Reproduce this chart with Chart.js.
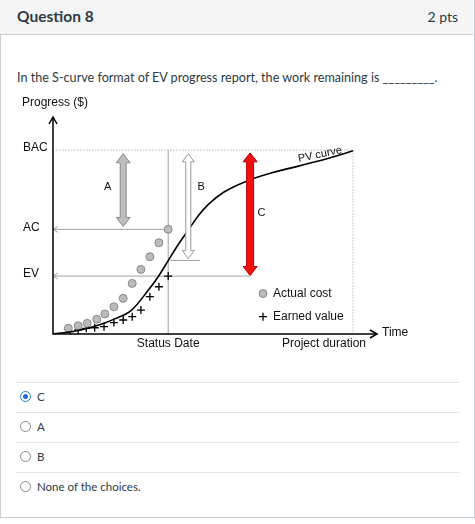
<!DOCTYPE html>
<html><head><meta charset="utf-8">
<script src="https://cdn.jsdelivr.net/npm/chart.js@4"></script>
<style>
body{margin:0;background:#fff;font-family:Lato,sans-serif;color:#2d3b45;}
#box{position:absolute;left:0;top:0;width:473px;height:517px;border:1px solid #c7cdd1;border-top:none;}
#hdr{position:absolute;left:0;top:0;width:473px;height:34px;background:#f5f5f5;border-bottom:1px solid #c7cdd1;}
#hdr .q{position:absolute;left:17px;top:7px;font-size:15.5px;font-weight:bold;color:#2d3b45;}
#hdr .p{position:absolute;right:15px;top:8px;font-size:14px;}
#qt{position:absolute;left:17px;top:70px;font-size:12.6px;}
#cv{position:absolute;left:0;top:90px;}
.opt{position:absolute;left:16px;width:444px;height:30px;border-top:1px solid #e3e6e8;font-size:11.5px;}
.opt span{position:absolute;left:21px;top:7px;}
.opt i{position:absolute;left:4px;top:8px;width:11px;height:11px;border:1px solid #888;border-radius:50%;box-sizing:border-box;}
.opt i.on{border:1.5px solid #2b7abc;}
.opt i.on:after{content:"";position:absolute;left:1.5px;top:1.5px;width:5px;height:5px;border-radius:50%;background:#1a6ed8;}
</style></head><body>
<div id="box"></div>
<div id="hdr"><div class="q">Question 8</div><div class="p">2 pts</div></div>
<div id="qt">In the S-curve format of EV progress report, the work remaining is _________.</div>
<canvas id="cv" width="475" height="270" style="width:475px;height:270px"></canvas>
<div class="opt" style="top:382px"><i class="on"></i><span>C</span></div>
<div class="opt" style="top:412px"><i></i><span>A</span></div>
<div class="opt" style="top:442px"><i></i><span>B</span></div>
<div class="opt" style="top:472px"><i></i><span>None of the choices.</span></div>
<script>
const pvX=[0,8,15.3,21,26.2,31.8,35,38.4,41.5,45.1,48.5,51.8,57,65.1,73,81.8,90.7,100];
const pvY=[0,1.8,4.9,8.5,13,23.9,31,39.9,48,56.5,64.5,70.5,77.2,83.5,87.7,91.3,95,99.6];
const acX=[5.1,8.4,11.4,14.6,17.3,20.3,23.4,26.4,29.3,32.3,35.3,38.4];
const acY=[3.1,4.5,5.8,8.0,10.9,14.8,19.4,27.5,35.1,42.0,49.6,56.9];
const evX=[5.7,8.4,11.1,13.9,17.0,20.3,23.4,26.4,29.3,32.3,35.3,38.4];
const evY=[1.3,2.2,3.1,3.4,4.0,6.2,7.6,9.4,13.0,20.3,25.7,31.5];
const BAC=100, AC=56.9, EV=31.5, PVnow=40, STATUS=38.4, END=100;
const yTickLabels=["BAC","AC","EV"];
const yTickValues=[BAC,AC,EV];
const arrowA={x:23.4,y1:98,y2:58.5,label:"A"};
const arrowB={x:45.1,y1:98,y2:41,label:"B"};
const arrowC={x:65.7,y1:98.5,y2:31.8,label:"C"};

const deco={id:'deco',
beforeDatasetsDraw(ch){
 const c=ch.ctx,x=ch.scales.x,y=ch.scales.y,X=v=>x.getPixelForValue(v),Y=v=>y.getPixelForValue(v);
 c.save();
 c.strokeStyle='#aaa';c.lineWidth=0.8;c.setLineDash([1.5,1.5]);
 c.beginPath();c.moveTo(X(0),Y(BAC));c.lineTo(X(END),Y(BAC));c.lineTo(X(END),Y(0));c.stroke();
 c.setLineDash([]);
 c.strokeStyle='#888';c.lineWidth=0.8;
 c.beginPath();c.moveTo(X(STATUS),Y(0));c.lineTo(X(STATUS),Y(BAC));c.stroke();
 const hl=(y0,x1)=>{c.beginPath();c.moveTo(X(0),Y(y0));c.lineTo(X(x1),Y(y0));c.stroke();
   c.beginPath();c.moveTo(X(0)+5,Y(y0)-3);c.lineTo(X(0),Y(y0));c.lineTo(X(0)+5,Y(y0)+3);c.stroke();};
 hl(AC,STATUS);hl(EV,arrowC.x);
 c.beginPath();c.moveTo(X(STATUS)+2,Y(PVnow));c.lineTo(X(49),Y(PVnow));c.stroke();
 c.strokeStyle='#000';c.lineWidth=1.5;
 c.beginPath();c.moveTo(X(0),Y(118));c.lineTo(X(0),Y(0));c.lineTo(X(108),Y(0));c.stroke();
 c.beginPath();c.moveTo(X(0)-4,Y(118)+7);c.lineTo(X(0),Y(118));c.lineTo(X(0)+4,Y(118)+7);c.stroke();
 c.beginPath();c.moveTo(X(108)-7,Y(0)-4);c.lineTo(X(108),Y(0));c.lineTo(X(108)-7,Y(0)+4);c.stroke();
 c.fillStyle='#111';c.font='12px "Liberation Sans",Arial';c.textBaseline='middle';
 c.textAlign='left';c.fillText('Progress ($)',22,Y(118)-14);
 yTickValues.forEach((v,i)=>c.fillText(yTickLabels[i],23,Y(v)-2));
 c.fillText('Time',X(108)+5,Y(0)-1);
 c.textAlign='center';c.fillText('Status Date',X(STATUS),Y(0)+10);
 c.fillText('Project duration',X(END)-29,Y(0)+10);
 c.textAlign='left';c.fillText('Actual cost',X(70)+10,Y(22));c.fillText('Earned value',X(70)+10,Y(9.4));
 c.font='11px "Liberation Sans",Arial';c.textAlign='center';
 c.fillText(arrowA.label,X(18.2),Y(80));c.fillText(arrowB.label,X(49.4),Y(80));c.fillText(arrowC.label,X(69.5),Y(66));
 c.save();c.translate(X(89),Y(97.6));c.rotate(-0.2);c.font='11px "Liberation Sans",Arial';c.fillText('PV curve',0,0);c.restore();
 c.restore();
},
afterDatasetsDraw(ch){
 const c=ch.ctx,x=ch.scales.x,y=ch.scales.y,X=v=>x.getPixelForValue(v),Y=v=>y.getPixelForValue(v);
 const arrow=(a,w,hw,hl,fill,stroke)=>{
  const cx=X(a.x),t=Y(a.y1),b=Y(a.y2);
  c.beginPath();
  c.moveTo(cx,t);c.lineTo(cx+hw,t+hl);c.lineTo(cx+w,t+hl);c.lineTo(cx+w,b-hl);c.lineTo(cx+hw,b-hl);
  c.lineTo(cx,b);c.lineTo(cx-hw,b-hl);c.lineTo(cx-w,b-hl);c.lineTo(cx-w,t+hl);c.lineTo(cx-hw,t+hl);c.closePath();
  c.fillStyle=fill;c.fill();c.strokeStyle=stroke;c.lineWidth=1;c.stroke();};
 c.save();
 arrow(arrowA,3,7,9,'#bdbdbd','#888');
 arrow(arrowB,2.5,6,8,'#ffffff','#999');
 arrow(arrowC,3.5,7,9,'#ee1111','#b00');
 c.beginPath();c.arc(X(70),Y(22),4,0,7);c.fillStyle='#bbb';c.fill();c.strokeStyle='#777';c.lineWidth=0.8;c.stroke();
 c.strokeStyle='#000';c.lineWidth=1.3;c.beginPath();c.moveTo(X(70)-4,Y(9.4));c.lineTo(X(70)+4,Y(9.4));c.moveTo(X(70),Y(9.4)-4);c.lineTo(X(70),Y(9.4)+4);c.stroke();
 c.restore();
}};
new Chart(document.getElementById('cv'),{
 type:'scatter',
 data:{datasets:[
  {type:'line',data:pvX.map((v,i)=>({x:v,y:pvY[i]})),borderColor:'#000',borderWidth:1.6,pointRadius:0,cubicInterpolationMode:'monotone',fill:false},
  {data:acX.map((v,i)=>({x:v,y:acY[i]})),pointRadius:4,backgroundColor:'#bbb',borderColor:'#777',borderWidth:0.8},
  {data:evX.map((v,i)=>({x:v,y:evY[i]})),pointStyle:'cross',pointRadius:4,borderColor:'#000',borderWidth:1.3}
 ]},
 options:{responsive:false,animation:false,devicePixelRatio:1,
  layout:{padding:{left:53,right:98,top:27,bottom:26}},
  plugins:{legend:{display:false},tooltip:{enabled:false}},
  scales:{x:{type:'linear',min:0,max:108,display:false},y:{min:0,max:118,display:false}}},
 plugins:[deco]
});
</script>
</body></html>
